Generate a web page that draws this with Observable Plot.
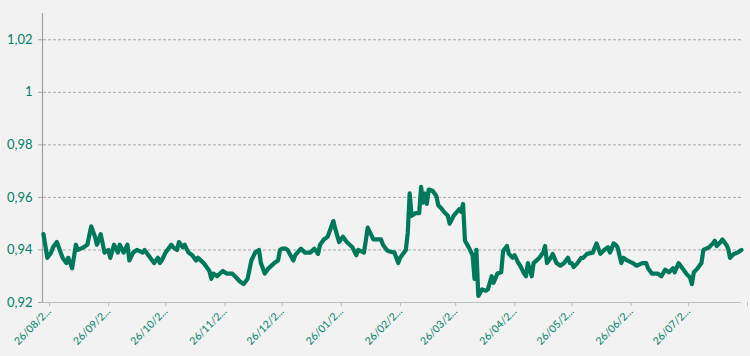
<!DOCTYPE html>
<html><head><meta charset="utf-8">
<script src="https://cdn.jsdelivr.net/npm/d3@7"></script>
<script src="https://cdn.jsdelivr.net/npm/@observablehq/plot@0.6"></script>
<style>html,body{margin:0;padding:0;background:#f2f2f2;overflow:hidden;}</style>
</head><body><div id="chart"></div>
<script>
const dates = [
"2019-08-26","2019-08-28","2019-08-30","2019-08-31","2019-09-02","2019-09-04","2019-09-05","2019-09-07","2019-09-08","2019-09-10",
"2019-09-12","2019-09-13","2019-09-16","2019-09-18","2019-09-20","2019-09-22","2019-09-23","2019-09-25","2019-09-27","2019-09-29",
"2019-09-30","2019-10-02","2019-10-04","2019-10-05","2019-10-07","2019-10-09","2019-10-10","2019-10-12","2019-10-14","2019-10-17",
"2019-10-18","2019-10-20","2019-10-23","2019-10-25","2019-10-26","2019-10-27","2019-10-29","2019-11-01","2019-11-02","2019-11-04",
"2019-11-05","2019-11-07","2019-11-08","2019-11-10","2019-11-12","2019-11-14","2019-11-15","2019-11-18","2019-11-21","2019-11-22",
"2019-11-23","2019-11-25","2019-11-28","2019-11-30","2019-12-03","2019-12-05","2019-12-07","2019-12-09","2019-12-11","2019-12-13",
"2019-12-15","2019-12-17","2019-12-18","2019-12-20","2019-12-22","2019-12-25","2019-12-27","2019-12-28","2019-12-29","2019-12-31",
"2020-01-01","2020-01-04","2020-01-05","2020-01-08","2020-01-10","2020-01-13","2020-01-15","2020-01-17","2020-01-18","2020-01-20",
"2020-01-22","2020-01-25","2020-01-26","2020-01-28","2020-01-30","2020-02-01","2020-02-04","2020-02-06","2020-02-07","2020-02-10",
"2020-02-11","2020-02-12","2020-02-15","2020-02-17","2020-02-19","2020-02-20","2020-02-22","2020-02-23","2020-02-26","2020-02-28",
"2020-02-29","2020-03-03","2020-03-04","2020-03-05","2020-03-06","2020-03-08","2020-03-10","2020-03-11","2020-03-12","2020-03-13",
"2020-03-14","2020-03-15","2020-03-17","2020-03-19","2020-03-20","2020-03-22","2020-03-23","2020-03-25","2020-03-26","2020-03-28",
"2020-03-31","2020-04-01","2020-04-02","2020-04-03","2020-04-05","2020-04-07","2020-04-08","2020-04-09","2020-04-10","2020-04-12",
"2020-04-14","2020-04-15","2020-04-17","2020-04-18","2020-04-20","2020-04-22","2020-04-23","2020-04-25","2020-04-26","2020-04-28",
"2020-04-29","2020-05-01","2020-05-02","2020-05-04","2020-05-05","2020-05-06","2020-05-08","2020-05-09","2020-05-12","2020-05-14",
"2020-05-15","2020-05-16","2020-05-18","2020-05-19","2020-05-21","2020-05-23","2020-05-25","2020-05-27","2020-05-28","2020-05-29",
"2020-05-30","2020-06-01","2020-06-03","2020-06-04","2020-06-06","2020-06-09","2020-06-11","2020-06-13","2020-06-15","2020-06-17",
"2020-06-18","2020-06-20","2020-06-21","2020-06-22","2020-06-24","2020-06-25","2020-06-27","2020-06-30","2020-07-02","2020-07-05",
"2020-07-07","2020-07-08","2020-07-10","2020-07-13","2020-07-15","2020-07-17","2020-07-19","2020-07-21","2020-07-22","2020-07-24",
"2020-07-26","2020-07-28","2020-07-30","2020-07-31","2020-08-01","2020-08-03","2020-08-05","2020-08-06","2020-08-09","2020-08-11",
"2020-08-12","2020-08-13","2020-08-15","2020-08-16","2020-08-18","2020-08-19","2020-08-20","2020-08-22","2020-08-24","2020-08-26"
];
const values = [
0.946,0.937,0.939,0.941,0.943,0.939,0.937,0.935,0.937,0.933,
0.942,0.940,0.941,0.942,0.949,0.945,0.942,0.946,0.939,0.940,
0.937,0.942,0.939,0.942,0.939,0.942,0.936,0.939,0.940,0.939,
0.940,0.938,0.935,0.937,0.935,0.936,0.939,0.942,0.941,0.940,
0.943,0.941,0.942,0.939,0.938,0.936,0.937,0.935,0.932,0.929,
0.931,0.930,0.932,0.931,0.931,0.9295,0.928,0.927,0.929,0.936,
0.939,0.940,0.935,0.931,0.933,0.935,0.936,0.940,0.9405,0.9405,
0.940,0.936,0.938,0.9405,0.939,0.939,0.9405,0.9385,0.942,0.944,
0.945,0.951,0.948,0.943,0.945,0.943,0.941,0.938,0.940,0.939,
0.9435,0.9485,0.944,0.944,0.944,0.942,0.940,0.9395,0.939,0.935,
0.937,0.940,0.9465,0.9615,0.953,0.954,0.954,0.964,0.958,0.9615,
0.9575,0.963,0.9625,0.9605,0.957,0.9555,0.9545,0.953,0.950,0.953,
0.9555,0.9545,0.9575,0.9435,0.941,0.938,0.929,0.940,0.9225,0.925,
0.9245,0.925,0.930,0.9275,0.931,0.9315,0.9395,0.9415,0.9385,0.937,
0.938,0.935,0.934,0.931,0.930,0.935,0.930,0.935,0.937,0.939,
0.9415,0.935,0.937,0.9385,0.935,0.934,0.935,0.937,0.935,0.935,
0.9335,0.935,0.937,0.937,0.9385,0.939,0.9425,0.9385,0.940,0.941,
0.939,0.9425,0.942,0.941,0.935,0.937,0.936,0.935,0.934,0.935,
0.935,0.933,0.931,0.931,0.930,0.9325,0.9315,0.933,0.9315,0.935,
0.933,0.931,0.9295,0.927,0.9315,0.933,0.935,0.940,0.941,0.9425,
0.9435,0.9415,0.943,0.944,0.942,0.9405,0.937,0.9385,0.939,0.940
];
const yTicks = [0.92, 0.94, 0.96, 0.98, 1, 1.02];
const xTickDates = ["2019-08-26","2019-09-26","2019-10-26","2019-11-26","2019-12-26","2020-01-26","2020-02-26","2020-03-26","2020-04-26","2020-05-26","2020-06-26","2020-07-26","2020-08-26"];
const xTickLabels = ["26/08/2...","26/09/2...","26/10/2...","26/11/2...","26/12/2...","26/01/2...","26/02/2...","26/03/2...","26/04/2...","26/05/2...","26/06/2...","26/07/2...",""];

const data = dates.map((d, i) => ({date: new Date(d), value: values[i]}));
const xTicks = xTickDates.map(d => new Date(d));
const labelMap = new Map(xTicks.map((d, i) => [+d, xTickLabels[i]]));
const lineColor = "#00785a";
const textColor = "#007f66";
const gridColor = "#a8a8a8";

const chart = Plot.plot({
  width: 750,
  height: 356,
  marginLeft: 43,
  marginRight: 9,
  marginTop: 13,
  marginBottom: 54,
  style: {background: "#f2f2f2", fontFamily: "Lato, 'Noto Sans', sans-serif"},
  x: {type: "utc", domain: [xTicks[0], xTicks[xTicks.length - 1]]},
  y: {domain: [0.92, 1.03]},
  marks: [
    Plot.ruleY(yTicks.slice(1), {stroke: gridColor, strokeDasharray: "3,2", strokeWidth: 1}),
    Plot.axisY({ticks: yTicks, tickSize: 5, tickPadding: 6, stroke: gridColor, fill: textColor, fontSize: 13,
      tickFormat: d => String(d).replace(".", ","), label: null}),
    Plot.ruleY([0.92], {stroke: "#bcbcbc", strokeWidth: 1}),
    Plot.ruleX([xTicks[0]], {stroke: "#a0a0a0", strokeWidth: 1.2, dx: -1}),
    Plot.axisX({ticks: xTicks, tickSize: 4, tickPadding: 3, tickRotate: -45, stroke: "#bcbcbc", fill: textColor, fontSize: 10.5,
      tickFormat: d => labelMap.get(+d), label: null, dx: 6}),
    Plot.line(data, {x: "date", y: "value", stroke: lineColor, strokeWidth: 4.2, strokeLinejoin: "round", strokeLinecap: "round"})
  ]
});
document.getElementById("chart").appendChild(chart);
</script>
</body></html>
